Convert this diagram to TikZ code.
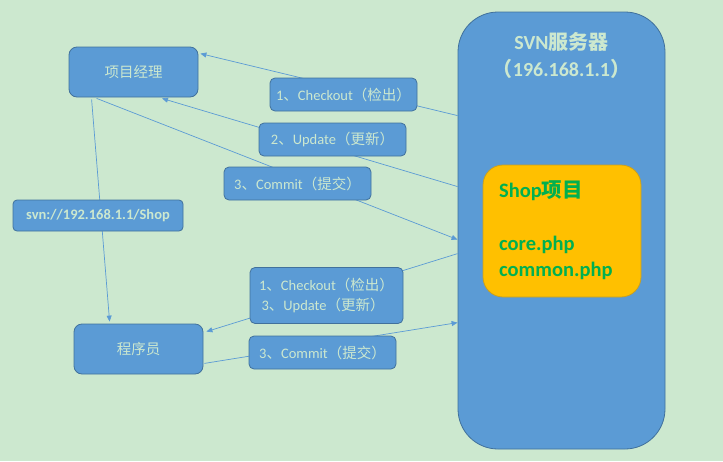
\documentclass[tikz,border=0pt]{standalone}
\usepackage{fontspec}
\setmainfont{Carlito}
\newfontfamily\cjk{Noto Sans CJK SC}
\usetikzlibrary{arrows.meta,calc}
\definecolor{bgc}{HTML}{CCE8CF}
\definecolor{boxc}{HTML}{5B9BD5}
\definecolor{edgec}{HTML}{41719C}
\definecolor{linec}{HTML}{5B9BD5}
\definecolor{yel}{HTML}{FFC000}
\definecolor{yeledge}{HTML}{C9A020}
\definecolor{grn}{HTML}{00B050}
\tikzset{
  x=1pt,y=-1pt,
  bluebox/.style={draw=edgec,fill=boxc,line width=0.8pt,text=bgc,inner sep=0pt},
  actor/.style={bluebox,rounded corners=8pt,minimum width=129pt,minimum height=50pt,font=\cjk\fontsize{14.5}{17}\selectfont},
  lbl/.style={bluebox,rounded corners=5pt,minimum width=147pt,minimum height=33pt,font=\fontsize{14.5}{20}\selectfont},
  conn/.style={draw=linec,line width=0.7pt,-{Triangle[length=6pt,width=5pt]}},
  plain/.style={draw=linec,line width=0.7pt}
}
\begin{document}
\begin{tikzpicture}
\useasboundingbox[fill=bgc] (0,0) rectangle (723,461);
% server
\node[bluebox,rounded corners=40pt,minimum width=207pt,minimum height=437pt] (server) at (561.5,230.5) {};
\node[text=bgc,align=center,font=\bfseries\fontsize{20}{27}\selectfont] (title) at (561.5,55) {SVN{\cjk 服务器}\\{\cjk （}196.168.1.1{\cjk ）}};
\node[draw=yeledge,fill=yel,line width=0.8pt,rounded corners=20pt,minimum width=158pt,minimum height=132pt] (shop) at (562,231) {};
\node[text=grn,align=left,anchor=north west,inner sep=0pt,font=\bfseries\fontsize{20.5}{26}\selectfont] (shoptext) at (499,180) {Shop{\cjk 项目}\\[27pt]core.php\\common.php};
% actors
\node[actor] (pm) at (133.5,72) {项目经理};
\node[actor] (prog) at (138.5,349) {程序员};
% connector end points on the server's left side
\coordinate (s1) at ($(server.north west)+(0,104)$);
\coordinate (s2) at ($(server.north west)+(0,175)$);
\coordinate (s3) at ($(server.north west)+(0,228)$);
\coordinate (s4) at ($(server.north west)+(0,242)$);
\coordinate (s5) at ($(server.north west)+(0,311)$);
% connectors
\draw[conn] (s1) -- ($(pm.north east)+(2,7)$);
\draw[conn] (s2) -- ($(pm.south)+(28.5,1)$);
\draw[conn] ($(pm.south west)+(28,1)$) -- (s3);
\draw[conn] ($(pm.south west)+(23,2)$) -- ($(prog.north west)+(36,-2)$);
\draw[conn] (s4) -- ($(prog.north east)+(3,8)$);
\draw[conn] ($(prog.south east)+(1,-11)$) -- (s5);
% labels on connectors
\node[lbl] (co1) at (343.5,94.5) {1{\cjk 、}Checkout{\cjk （检出）}};
\node[lbl] (up2) at (332.5,139.5) {2{\cjk 、}Update{\cjk （更新）}};
\node[lbl] (cm3) at (297.5,183.5) {3{\cjk 、}Commit{\cjk （提交）}};
\node[bluebox,rounded corners=4pt,minimum width=170pt,minimum height=31pt,font=\bfseries\fontsize{14.5}{17}\selectfont] (url) at (98,215.5) {svn://192.168.1.1/Shop};
\node[lbl,minimum width=153pt,minimum height=56pt,align=left] (cu) at (326.5,295.5) {1{\cjk 、}Checkout{\cjk （检出）}\\\,3{\cjk 、}Update{\cjk （更新）}};
\node[lbl] (cm3b) at (322.5,352.5) {3{\cjk 、}Commit{\cjk （提交）}};
\end{tikzpicture}
\end{document}
